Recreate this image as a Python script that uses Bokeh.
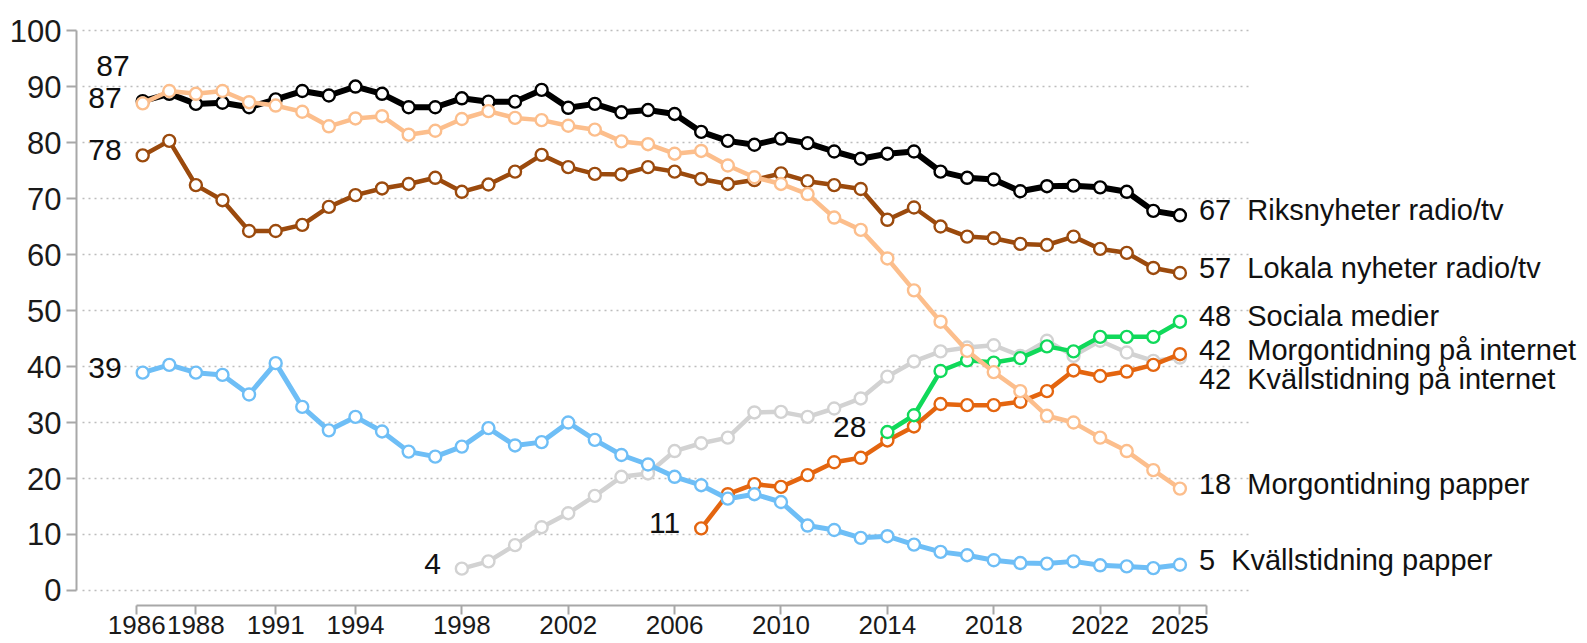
from bokeh.plotting import figure
from bokeh.models import ColumnDataSource, LabelSet, FixedTicker, Range1d
from bokeh.core.properties import value
from bokeh.embed import file_html
from bokeh.resources import INLINE

# ---------------- data ----------------
years = list(range(1986, 2026))

riks_years = years
riks = [87.4, 88.7, 86.9, 87.1, 86.3, 87.7, 89.2, 88.4, 90.0, 88.7,
        86.3, 86.3, 87.9, 87.3, 87.3, 89.4, 86.2, 86.9, 85.4, 85.8,
        85.1, 81.9, 80.3, 79.6, 80.7, 79.9, 78.4, 77.1, 78.0, 78.4,
        74.8, 73.7, 73.4, 71.3, 72.2, 72.3, 72.0, 71.2, 67.8, 67.0]

lokala_years = years
lokala = [77.7, 80.3, 72.4, 69.7, 64.2, 64.2, 65.3, 68.5, 70.6, 71.8,
          72.6, 73.7, 71.2, 72.5, 74.8, 77.8, 75.6, 74.4, 74.3, 75.6,
          74.8, 73.5, 72.6, 73.3, 74.5, 73.1, 72.4, 71.7, 66.2, 68.4,
          65.0, 63.2, 62.9, 61.9, 61.7, 63.2, 61.0, 60.3, 57.6, 56.7]

morg_papper_years = years
morg_papper = [87.0, 89.2, 88.7, 89.2, 87.2, 86.6, 85.5, 82.9, 84.3, 84.7,
               81.4, 82.1, 84.2, 85.6, 84.4, 84.0, 83.0, 82.3, 80.2, 79.7,
               78.0, 78.5, 75.9, 73.8, 72.6, 70.8, 66.6, 64.4, 59.3, 53.6,
               48.0, 42.8, 39.0, 35.6, 31.2, 30.0, 27.3, 24.9, 21.5, 18.2]

kvall_papper_years = years
kvall_papper = [38.9, 40.3, 38.9, 38.5, 35.0, 40.6, 32.8, 28.6, 31.0, 28.4,
                24.8, 23.9, 25.7, 29.0, 25.9, 26.5, 30.0, 26.9, 24.2, 22.5,
                20.3, 18.8, 16.4, 17.2, 15.8, 11.6, 10.8, 9.4, 9.7, 8.2,
                6.9, 6.3, 5.4, 4.9, 4.8, 5.2, 4.5, 4.3, 4.0, 4.6]

morg_internet_years = list(range(1998, 2026))
morg_internet = [3.9, 5.2, 8.1, 11.3, 13.8, 16.9, 20.3, 20.9, 24.9, 26.3,
                 27.3, 31.8, 31.9, 31.0, 32.5, 34.3, 38.2, 40.9, 42.7, 43.4,
                 43.8, 41.9, 44.6, 41.9, 44.6, 42.5, 41.0, 41.6]

kvall_internet_years = list(range(2007, 2026))
kvall_internet = [11.1, 17.2, 19.0, 18.5, 20.6, 22.9, 23.7, 26.8, 29.3, 33.3,
                  33.1, 33.1, 33.7, 35.6, 39.3, 38.3, 39.1, 40.3, 42.2]

sociala_years = list(range(2014, 2026))
sociala = [28.3, 31.3, 39.2, 41.1, 40.7, 41.5, 43.6, 42.7, 45.3, 45.3, 45.3, 48.0]

y_ticks = [0, 10, 20, 30, 40, 50, 60, 70, 80, 90, 100]
x_tick_years = [1988, 1991, 1994, 1998, 2002, 2006, 2010, 2014, 2018, 2022, 2025]
first_tick_label = "1986"

# ---------------- styling ----------------
FONT = "Liberation Sans"
series = [
    # name, xs, ys, colour, line width, end-label extra offset(px), start-label offsets (dx, dy)
    ("Morgontidning på internet", morg_internet_years, morg_internet, "#d2d2d2", 4.5, 3, (0, 0)),
    ("Kvällstidning på internet", kvall_internet_years, kvall_internet, "#e4650f", 4.5, -30, (0, 0)),
    ("Kvällstidning papper", kvall_papper_years, kvall_papper, "#6ebef6", 5, 0, (0, 0)),
    ("Sociala medier", sociala_years, sociala, "#10d95a", 4.5, 1, (0, 0)),
    ("Lokala nyheter radio/tv", lokala_years, lokala, "#9b4a0d", 4.5, 0, (0, 0)),
    ("Riksnyheter radio/tv", riks_years, riks, "#000000", 6, 0, (8, 30)),
    ("Morgontidning papper", morg_papper_years, morg_papper, "#fcbe8c", 4.5, 0, (0, 0)),
]
BASE_UP = 5  # lift labels a little above their point
GAP = "\u00a0\u00a0"

X_LO, X_HI = 1983.511, 2040.25     # visible x range (frame runs to the right edge)
GRID_X = (1983.737, 2027.666)       # horizontal extent of the dotted grid lines

p = figure(width=1585, height=643, output_backend="svg", toolbar_location=None,
           x_range=Range1d(X_LO, X_HI), y_range=Range1d(-2.68, 100.9),
           min_border_left=76, min_border_right=0, min_border_top=25,
           min_border_bottom=38)
p.outline_line_color = None
p.background_fill_color = "white"
p.border_fill_color = "white"

p.xgrid.visible = False
GRID_COL = "#bdbdbd"
try:
    p.ygrid.cross_bounds = GRID_X
    p.ygrid.grid_line_color = GRID_COL
    p.ygrid.grid_line_dash = "2 4"
    p.ygrid.grid_line_width = 1.3
except AttributeError:
    p.ygrid.visible = False
    gsrc = ColumnDataSource(dict(y=y_ticks, x0=[GRID_X[0]] * len(y_ticks),
                                 x1=[GRID_X[1]] * len(y_ticks)))
    p.segment(x0="x0", x1="x1", y0="y", y1="y", source=gsrc, line_color=GRID_COL,
              line_dash="2 4", line_width=1.3)

AXIS_COL = "#a8a8a8"
yax = p.yaxis[0]
yax.ticker = FixedTicker(ticks=y_ticks)
yax.bounds = (y_ticks[0], y_ticks[-1])
yax.axis_line_color = AXIS_COL
yax.axis_line_width = 2
yax.major_tick_line_color = AXIS_COL
yax.major_tick_line_width = 2
yax.major_tick_out = 10
yax.major_tick_in = 0
yax.minor_tick_line_color = None
yax.major_label_text_font = FONT
yax.major_label_text_font_size = "31px"
yax.major_label_text_color = "#1a1a1a"
yax.major_label_standoff = 5

x_start = years[0] - 0.226
x_end = years[-1] + 0.99
xax = p.xaxis[0]
xax.ticker = FixedTicker(ticks=[x_start] + x_tick_years + [x_end])
xax.major_label_overrides = {x_start: first_tick_label, str(x_start): first_tick_label,
                             x_end: "", str(x_end): ""}
xax.bounds = (x_start, x_end)
xax.axis_line_color = AXIS_COL
xax.axis_line_width = 2
xax.major_tick_line_color = AXIS_COL
xax.major_tick_line_width = 2
xax.major_tick_out = 9
xax.major_tick_in = 0
xax.minor_tick_line_color = None
xax.major_label_text_font = FONT
xax.major_label_text_font_size = "26px"
xax.major_label_text_color = "#1a1a1a"
xax.major_label_standoff = 1

end_x, end_y, end_text, end_off = [], [], [], []
st_x, st_y, st_text, st_dx, st_dy = [], [], [], [], []
for name, xs, ys, col, lw, eoff, (sdx, sdy) in series:
    src = ColumnDataSource(dict(x=xs, y=ys))
    p.line("x", "y", source=src, line_color=col, line_width=lw, line_join="round")
    p.scatter("x", "y", source=src, marker="circle", size=12, fill_color="white",
              line_color=col, line_width=2.4)
    end_x.append(xs[-1]); end_y.append(ys[-1])
    end_text.append(f"{round(ys[-1])}{GAP}{name}")
    end_off.append(eoff + BASE_UP)
    st_x.append(xs[0]); st_y.append(ys[0])
    st_text.append(f"{round(ys[0])}")
    st_dx.append(-21 + sdx); st_dy.append(sdy + BASE_UP)

end_src = ColumnDataSource(dict(x=end_x, y=end_y, text=end_text, dy=end_off))
p.add_layout(LabelSet(x="x", y="y", text="text", source=end_src, x_offset=19, y_offset="dy",
                      text_font=value(FONT), text_font_size="29px", text_color="#111111",
                      text_align="left", text_baseline="middle"))
st_src = ColumnDataSource(dict(x=st_x, y=st_y, text=st_text, dx=st_dx, dy=st_dy))
p.add_layout(LabelSet(x="x", y="y", text="text", source=st_src, x_offset="dx", y_offset="dy",
                      text_font=value(FONT), text_font_size="30px", text_color="#111111",
                      text_align="right", text_baseline="middle"))

open("out.html", "w").write(file_html(p, INLINE))
